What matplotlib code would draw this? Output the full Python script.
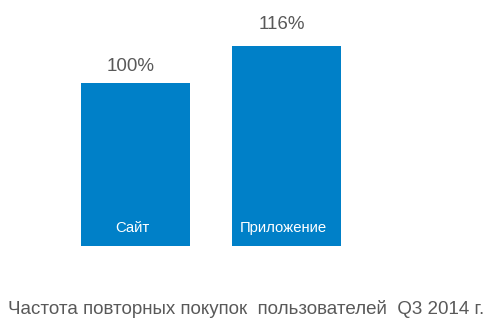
import matplotlib.pyplot as plt

categories = ["Сайт", "Приложение"]
values = [100, 116]
top_labels = ["100%", "116%"]
caption = "Частота повторных покупок  пользователей  Q3 2014 г."

plt.rcParams['font.family'] = ['Liberation Sans', 'DejaVu Sans']

fig = plt.figure(figsize=(4.93, 3.28), dpi=100)
ax = fig.add_axes([0, 0.251, 1, 0.749])
ax.axis('off')

bar_color = '#0080C8'
text_color = '#595959'
y0 = 29.5
ax.bar(range(len(values)), [v - y0 for v in values], bottom=y0, width=0.72, color=bar_color)
ax.set_xlim(-0.897, 2.368)
ax.set_ylim(y0, 135.8)

# label gaps differ a bit in the original
gaps = [8.2, 11.8]
for i, v in enumerate(values):
    ax.annotate(top_labels[i], (i, v), xytext=(-3.5, gaps[i]), textcoords='offset points',
                ha='center', va='baseline', fontsize=13.5, color=text_color)
    ax.annotate(categories[i], (i, y0), xytext=(-2.5, 9.5), textcoords='offset points',
                ha='center', va='baseline', fontsize=10.7, color='white')

fig.text(0.016, 0.042, caption, ha='left', va='baseline', fontsize=13.5, color=text_color)

fig.savefig("out.png", dpi=100)
